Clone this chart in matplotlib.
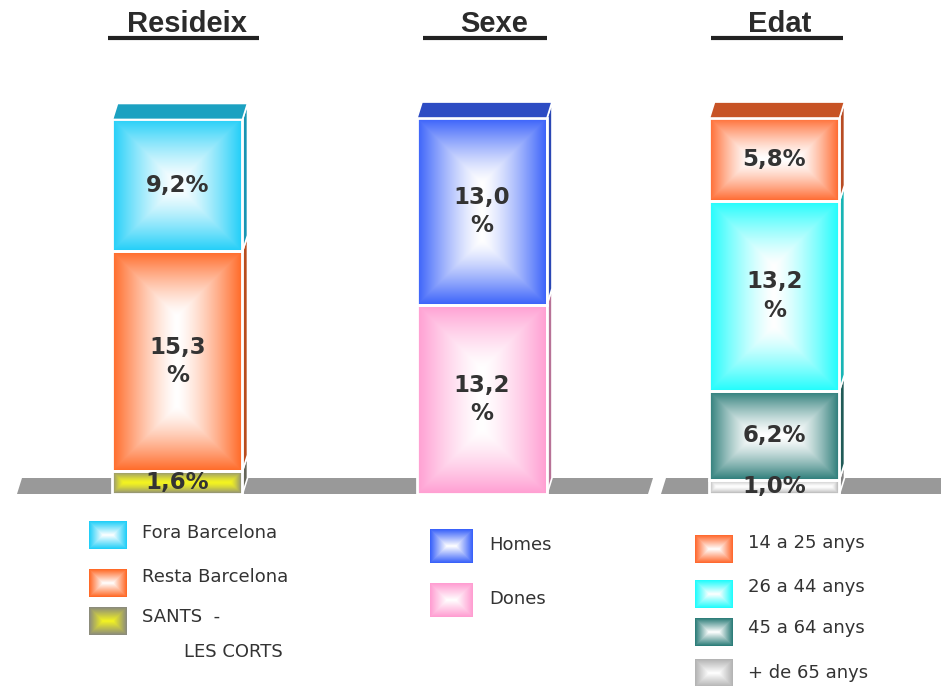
import numpy as np
import matplotlib
matplotlib.use("Agg")
import matplotlib.pyplot as plt
from matplotlib.patches import Polygon, Rectangle
from matplotlib.colors import to_rgb

# data (stacked bottom -> top)
titles = ["Resideix", "Sexe", "Edat"]

res_cats = ["SANTS  -\nLES CORTS", "Resta Barcelona", "Fora Barcelona"]
res_vals = [1.6, 15.3, 9.2]
res_cols = ["#8c8c7c", "#ff6a28", "#22cff8"]
res_mids = ["#f4f420", "white", "white"]

sexe_cats = ["Dones", "Homes"]
sexe_vals = [13.2, 13.0]
sexe_cols = ["#ff9ed2", "#3a62fa"]
sexe_mids = ["white", "white"]

edat_cats = ["+ de 65 anys", "45 a 64 anys", "26 a 44 anys", "14 a 25 anys"]
edat_vals = [1.0, 6.2, 13.2, 5.8]
edat_cols = ["#b4b4b4", "#2e7e7a", "#22fcfc", "#ff6a30"]
edat_mids = ["white", "white", "white", "white"]

panels = [
    (res_cats, res_vals, res_cols, res_mids),
    (sexe_cats, sexe_vals, sexe_cols, sexe_mids),
    (edat_cats, edat_vals, edat_cols, edat_mids),
]

# layout (pixels)
W, H = 941, 686
PX = 14.35          # pixels per percentage point
BASE = 494
bar_x = [177.5, 482, 774.5]
bar_w = 130
floors = [(17, 367), (355, 648), (661, 945)]
DX = 5
DY = 16 / PX
title_x = [187, 494, 780]
underline = [(108, 259), (423, 547), (711, 843)]
leg_sw = [(89, 38, 28), (430, 43, 34), (695, 38, 28)]
leg_sw_y = [[535, 583, 621], [546, 600], [549, 594, 632, 673]]
leg_tx = [142, 489, 748]
leg_tx_y = [[533, 577, 617], [545, 599], [543, 587, 628, 673]]

fig = plt.figure(figsize=(W / 100, H / 100), dpi=100)
ax = fig.add_axes([0, 0, 1, 1])
ax.set_xlim(0, W)
ax.set_ylim(-(H - BASE) / PX, BASE / PX)
ax.axis("off")

ov = fig.add_axes([0, 0, 1, 1], zorder=5)
ov.set_xlim(0, W)
ov.set_ylim(H, 0)
ov.axis("off")
ov.patch.set_alpha(0)


def gradient_box(a, x0, x1, y0, y1, edge, mid, power=1.35, z=3):
    p0 = a.transData.transform((x0, y0))
    p1 = a.transData.transform((x1, y1))
    w = abs(p1[0] - p0[0])
    h = abs(p1[1] - p0[1])
    nx, ny = max(int(w), 2), max(int(h), 2)
    X, Y = np.meshgrid(np.linspace(0, w, nx), np.linspace(0, h, ny))
    d = np.minimum(np.minimum(X, w - X), np.minimum(Y, h - Y))
    t = np.clip(1 - d / (min(w, h) / 2), 0, 1) ** power
    e = np.array(to_rgb(edge))
    m = np.array(to_rgb(mid))
    img = m * (1 - t)[..., None] + e * t[..., None]
    a.imshow(img, extent=(x0, x1, y0, y1), origin="lower", aspect="auto",
             interpolation="bilinear", zorder=z)


def dark(c, f=0.72):
    return tuple(v * f for v in to_rgb(c))


for i, (cats, vals, cols, mids) in enumerate(panels):
    xc = bar_x[i]
    x0, x1 = xc - bar_w / 2, xc + bar_w / 2

    fl0, fl1 = floors[i]
    ax.add_patch(Polygon([(fl0, 0), (fl1, 0), (fl1 + DX, DY), (fl0 + DX, DY)],
                         closed=True, facecolor="#999999", edgecolor="none", zorder=1))

    bottom = 0
    for cat, v, c, m in zip(cats, vals, cols, mids):
        top = bottom + v
        gradient_box(ax, x0, x1, bottom, top, c, m, z=3)
        ax.add_patch(Rectangle((x0, bottom), bar_w, v, facecolor="none",
                               edgecolor="white", lw=2, zorder=4))
        ax.add_patch(Polygon([(x1, bottom), (x1 + DX, bottom + DY), (x1 + DX, top + DY), (x1, top)],
                             closed=True, facecolor=dark(c), edgecolor="white", lw=1.2, zorder=3))
        txt = f"{v:.1f}".replace(".", ",")
        txt = txt + ("\n%" if v >= 10 else "%")
        ax.text(xc, bottom + v / 2, txt, ha="center", va="center", fontsize=16.5,
                fontweight="bold", color="#333333", linespacing=1.3, zorder=6)
        bottom = top
    ax.add_patch(Polygon([(x0, bottom), (x1, bottom), (x1 + DX, bottom + DY), (x0 + DX, bottom + DY)],
                         closed=True, facecolor=dark(cols[-1], 0.78), edgecolor="white", lw=1.2, zorder=4))

    # title
    ov.text(title_x[i], 24, titles[i], ha="center", va="center", fontsize=21,
            fontweight="bold", color="#2b2b2b",
            family=["Liberation Sans", "DejaVu Sans"])
    ov.plot(underline[i], [38, 38], color="#222222", lw=3, solid_capstyle="butt")

    # legend (top segment first)
    sx, sw, sh = leg_sw[i]
    for k, (cat, c, m) in enumerate(zip(cats[::-1], cols[::-1], mids[::-1])):
        sy = leg_sw_y[i][k]
        gradient_box(ov, sx, sx + sw, sy - sh / 2, sy + sh / 2, c, m, power=1.0, z=3)
        lines = cat.split("\n")
        ty = leg_tx_y[i][k]
        ov.text(leg_tx[i], ty, lines[0], ha="left", va="center", fontsize=13,
                color="#333333")
        for j, extra in enumerate(lines[1:]):
            ov.text(leg_tx[i] + 42, ty + 35 * (j + 1), extra, ha="left", va="center",
                    fontsize=13, color="#333333")

ov.set_xlim(0, W)
ov.set_ylim(H, 0)
fig.savefig("out.png", dpi=100)
